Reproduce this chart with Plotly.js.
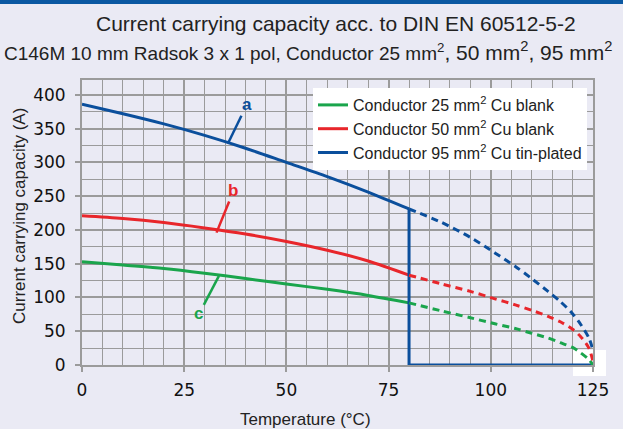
<!DOCTYPE html>
<html>
<head>
<meta charset="utf-8">
<script src="https://cdn.plot.ly/plotly-3.0.1.min.js"></script>
<style>html,body{margin:0;padding:0;background:#eaeaf4;}</style>
</head>
<body>
<div id="chart" style="width:623px;height:429px;"></div>
<script>
// ---- data ----
const seriesNames = ['Conductor 25 mm<sup>2</sup> Cu blank', 'Conductor 50 mm<sup>2</sup> Cu blank', 'Conductor 95 mm<sup>2</sup> Cu tin-plated'];
const tempSolid = [0, 10, 20, 30, 40, 50, 60, 70, 80];
const green25Solid = [153, 148, 143, 136, 128, 120, 112, 103, 92];
const red50Solid = [221, 217, 211, 203, 194, 183, 170, 154, 133];
const blue95Solid = [386, 372, 357, 340, 321, 300, 279, 256, 231];
// blue 95 mm2 curve drops vertically at 80 °C and continues along 0
const blueCutoffX = [80, 80, 125];
const blueCutoffY = [231, 0, 0];

const tempDash = [80, 88, 95, 101, 106, 110, 114, 117, 120, 122, 124, 125];
const green25Dash = [92, 80, 70, 61, 54, 47, 40, 33, 26, 18, 8, 0];
const red50Dash = [133, 120, 109, 98, 89, 81, 72, 64, 53, 42, 25, 5];
const blue95Dash = [231, 211, 189, 166, 146, 128, 109, 94, 76, 60, 40, 22];

const xTicks = [0, 25, 50, 75, 100, 125];
const yTicks = [0, 50, 100, 150, 200, 250, 300, 350, 400];

// curve labels: letter, pointer start/end (x,y), text position
const labelLetters = ['a', 'b', 'c'];
const labelTextX = [40.4, 37.0, 28.6];
const labelTextY = [385, 258, 77];
const pointerX0 = [39.0, 36.0, 29.8];
const pointerY0 = [369, 242, 89];
const pointerX1 = [35.7, 32.9, 33.5];
const pointerY1 = [328, 196, 132];

// ---- style ----
const cGreen = '#1aa54c';
const cRed = '#e8262b';
const cBlue = '#0b4f9c';
const colors = [cBlue, cRed, cGreen];
const gridC = '#9b9b9b';
const bg = '#eaeaf4';
const fontMain = '"Liberation Sans", Arial, sans-serif';
const W = 3;
const dashPat = '7px,5px';
const sm = 0.8;

const traces = [
  {x: tempSolid, y: green25Solid, name: seriesNames[0], mode: 'lines', line: {color: cGreen, width: W, shape: 'spline', smoothing: sm}, cliponaxis: false},
  {x: tempSolid, y: red50Solid, name: seriesNames[1], mode: 'lines', line: {color: cRed, width: W, shape: 'spline', smoothing: sm}, cliponaxis: false},
  {x: tempSolid, y: blue95Solid, name: seriesNames[2], mode: 'lines', line: {color: cBlue, width: W, shape: 'spline', smoothing: sm}, cliponaxis: false},
  {x: blueCutoffX, y: blueCutoffY, mode: 'lines', showlegend: false, line: {color: cBlue, width: W}, cliponaxis: false},
  {x: tempDash, y: green25Dash, mode: 'lines', showlegend: false, line: {color: cGreen, width: W, dash: dashPat, shape: 'spline', smoothing: sm}, cliponaxis: false},
  {x: tempDash, y: red50Dash, mode: 'lines', showlegend: false, line: {color: cRed, width: W, dash: dashPat, shape: 'spline', smoothing: sm}, cliponaxis: false},
  {x: tempDash, y: blue95Dash, mode: 'lines', showlegend: false, line: {color: cBlue, width: W, dash: dashPat, shape: 'spline', smoothing: sm}, cliponaxis: false}
];

const L = 82, R = 30, T = 80, B = 64;
const PW = 623 - L - R, PH = 429 - T - B;
const px = v => (v - L) / PW;           // pixel -> paper x
const py = v => (429 - B - v) / PH;     // pixel -> paper y

const shapes = [
  {type: 'rect', xref: 'paper', yref: 'paper', x0: px(0), x1: px(623), y0: py(4), y1: py(-2), fillcolor: '#0b58a2', line: {width: 0}, layer: 'above'},
  {type: 'rect', xref: 'paper', yref: 'paper', x0: px(573), x1: px(606), y0: py(376), y1: py(350), fillcolor: '#ffffff', line: {width: 0}, layer: 'between'}
];
const annotations = [
  {xref: 'paper', yref: 'paper', x: px(336), y: py(23), text: 'Current carrying capacity acc. to DIN EN 60512-5-2', showarrow: false, xanchor: 'center', yanchor: 'middle', font: {family: fontMain, size: 21, color: '#222'}},
  {xref: 'paper', yref: 'paper', x: px(308), y: py(51), text: 'C146M 10 mm Radsok 3 x 1 pol, Conductor 25 mm<sup>2</sup><span style="font-size:21px">, 50 mm<sup>2</sup>, 95 mm<sup>2</sup></span>', showarrow: false, xanchor: 'center', yanchor: 'middle', font: {family: fontMain, size: 19, color: '#222'}},
  {xref: 'paper', yref: 'paper', x: px(305), y: py(419), text: 'Temperature (°C)', showarrow: false, xanchor: 'center', yanchor: 'middle', font: {family: fontMain, size: 17, color: '#222'}},
  {xref: 'paper', yref: 'paper', x: px(19), y: py(216), text: 'Current carrying capacity (A)', textangle: -90, showarrow: false, xanchor: 'center', yanchor: 'middle', font: {family: fontMain, size: 17, color: '#222'}}
];
for (let i = 0; i < labelLetters.length; i++) {
  shapes.push({type: 'line', xref: 'x', yref: 'y', x0: pointerX0[i], y0: pointerY0[i], x1: pointerX1[i], y1: pointerY1[i], line: {color: colors[i], width: 2.5}, layer: 'above'});
  annotations.push({xref: 'x', yref: 'y', x: labelTextX[i], y: labelTextY[i], text: '<b>' + labelLetters[i] + '</b>', showarrow: false, font: {family: fontMain, size: 17, color: colors[i]}});
}

const layout = {
  width: 623, height: 429,
  margin: {l: L, r: R, t: T, b: B, pad: 0},
  paper_bgcolor: bg, plot_bgcolor: bg,
  font: {family: '"DejaVu Sans", sans-serif', size: 17, color: '#111'},
  showlegend: true,
  legend: {x: px(313), y: py(88), xanchor: 'left', yanchor: 'top', bgcolor: '#ffffff', borderwidth: 0,
           font: {family: fontMain, size: 16, color: '#222'}, tracegroupgap: 0, itemwidth: 30},
  xaxis: {range: [0, 125], tickvals: xTicks, ticktext: xTicks.map(String), showgrid: true, gridcolor: gridC, gridwidth: 2,
          zeroline: false, showline: true, mirror: true, linecolor: gridC, linewidth: 2,
          ticks: 'outside', ticklen: 5, tickcolor: gridC, tickwidth: 2, ticklabelstandoff: 4,
          minor: {dtick: 5, showgrid: true, gridcolor: gridC, gridwidth: 1, ticks: ''},
          tickfont: {family: '"DejaVu Sans", sans-serif', size: 17, color: '#111'}},
  yaxis: {range: [0, 422], tickvals: yTicks, ticktext: yTicks.map(String), showgrid: true, gridcolor: gridC, gridwidth: 2,
          zeroline: false, showline: true, mirror: true, linecolor: gridC, linewidth: 2,
          ticks: 'outside', ticklen: 5, tickcolor: gridC, tickwidth: 2, ticklabelstandoff: 6,
          minor: {dtick: 25, showgrid: true, gridcolor: gridC, gridwidth: 1, ticks: ''},
          tickfont: {family: '"DejaVu Sans", sans-serif', size: 17, color: '#111'}},
  shapes: shapes,
  annotations: annotations
};

Plotly.newPlot('chart', traces, layout, {displayModeBar: false, staticPlot: true});
</script>
</body>
</html>
